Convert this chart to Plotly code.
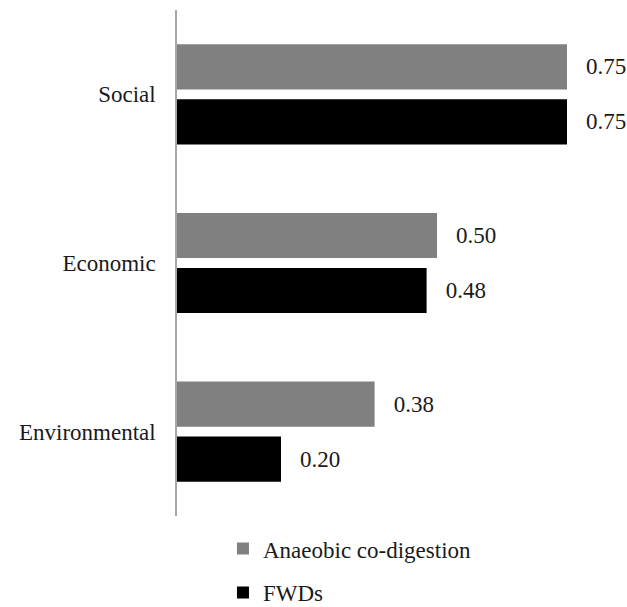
import plotly.graph_objects as go

categories = ["Environmental", "Economic", "Social"]
anaerobic = [0.38, 0.50, 0.75]
fwds = [0.20, 0.48, 0.75]
series_names = ["Anaeobic co-digestion", "FWDs"]

FONT = "Liberation Serif"
TXT = "#1a1a1a"
FS = 23

fig = go.Figure()
fig.add_trace(go.Bar(
    y=categories, x=fwds, orientation="h", name=series_names[1],
    legendgroup="b", legendrank=2,
    marker=dict(color="#000000", line=dict(width=0)),
    texttemplate="\u2002\u2009%{x:.2f}", textposition="outside",
    constraintext="none", cliponaxis=False,
    textfont=dict(family=FONT, size=FS, color=TXT),
))
fig.add_trace(go.Bar(
    y=categories, x=anaerobic, orientation="h", name=series_names[0],
    legendgroup="a", legendrank=1,
    marker=dict(color="#808080", line=dict(width=0)),
    texttemplate="\u2002\u2009%{x:.2f}", textposition="outside",
    constraintext="none", cliponaxis=False,
    textfont=dict(family=FONT, size=FS, color=TXT),
))

fig.update_layout(
    width=627, height=607,
    margin=dict(l=177, r=8, t=10, b=91, autoexpand=False),
    paper_bgcolor="white", plot_bgcolor="white",
    barmode="group", bargap=0.347, bargroupgap=0.18,
    font=dict(family=FONT, size=FS, color=TXT),
    showlegend=True,
    legend=dict(
        orientation="v", traceorder="grouped",
        x=0.104, xanchor="left", y=-0.022, yanchor="top",
        font=dict(family=FONT, size=FS, color=TXT),
        itemwidth=30, tracegroupgap=11,
    ),
    xaxis=dict(range=[0, 0.85], visible=False, showgrid=False, zeroline=False),
    yaxis=dict(
        type="category", categoryorder="array", categoryarray=categories,
        showline=True, linecolor="#a6a6a6", linewidth=1.5,
        ticks="", showgrid=False, zeroline=False, automargin=False,
        ticklabelstandoff=15,
        tickfont=dict(family=FONT, size=FS, color=TXT),
    ),
)

fig.write_html(
    "out.html",
    config={"displayModeBar": False},
    post_script="document.body.style.margin='0';document.body.style.padding='0';",
)
